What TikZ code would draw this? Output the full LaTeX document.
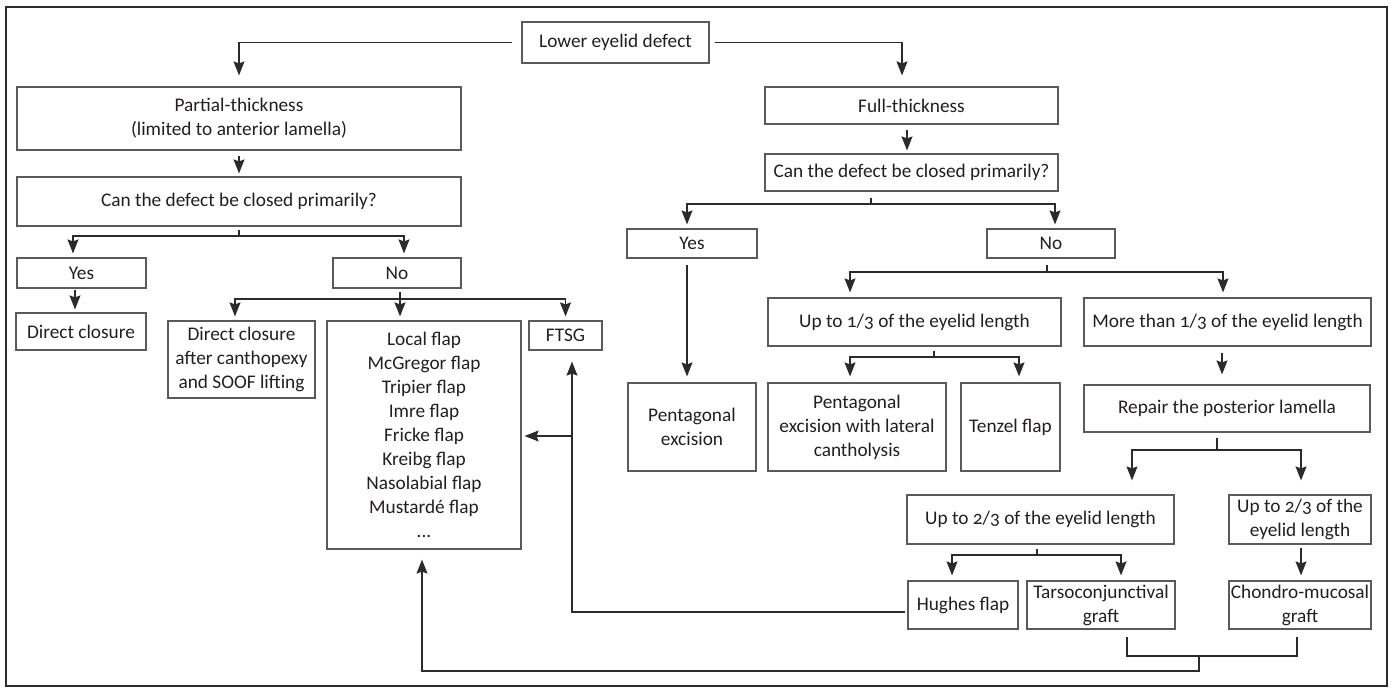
\documentclass[tikz,border=0pt]{standalone}
\usepackage{fontspec}
\setmainfont{Carlito}[Numbers=OldStyle]
\usetikzlibrary{arrows.meta}
\definecolor{txt}{HTML}{231F20}
\definecolor{boxc}{HTML}{5A5A5A}
\definecolor{lnc}{HTML}{2B2B2B}
\tikzset{
  bx/.style 2 args={draw=boxc, line width=1.2pt, rectangle, inner sep=0pt,
    minimum width=#1, minimum height=#2, align=center, text=txt,
    font=\fontsize{19.3}{24}\selectfont},
  ln/.style={draw=lnc, line width=1.2pt},
  arr/.style={ln, -{Stealth[length=14pt,width=11pt,inset=2pt]}},
  frame/.style={draw=lnc, line width=1.3pt}
}
\begin{document}
\begin{tikzpicture}[x=1pt,y=-1pt]
\useasboundingbox (0,0) rectangle (1392,689);
\draw[frame] (6,7) rectangle (1387,686);

% nodes
\node[bx={187pt}{41pt}] (low) at (615.5,42.5) {Lower eyelid defect};
\node[bx={444pt}{63pt}] (part) at (239,118.5) {Partial-thickness\\(limited to anterior lamella)};
\node[bx={444pt}{49pt}] (can1) at (239,201.5) {Can the defect be closed primarily?};
\node[bx={129pt}{30pt}] (yes1) at (81.5,273) {Yes};
\node[bx={128pt}{30pt}] (no1) at (397,273) {No};
\node[bx={130pt}{37pt}] (dc) at (81,331.5) {Direct closure};
\node[bx={147pt}{77pt}] (dca) at (241.5,359.5) {Direct closure\\after canthopexy\\and SOOF lifting};
\node[bx={194pt}{228pt}] (flaps) at (424,435) {Local flap\\McGregor flap\\Tripier flap\\Imre flap\\Fricke flap\\Kreibg flap\\Nasolabial flap\\Mustardé flap\\...};
\node[bx={73pt}{29pt}] (ftsg) at (565.5,335.5) {FTSG};
\node[bx={293pt}{37pt}] (full) at (911.5,105.5) {Full-thickness};
\node[bx={293pt}{37pt}] (can2) at (911.5,172.5) {Can the defect be closed primarily?};
\node[bx={130pt}{29pt}] (yes2) at (692,243.5) {Yes};
\node[bx={128pt}{29pt}] (no2) at (1051,243.5) {No};
\node[bx={293pt}{48pt}] (up13) at (914.5,322) {Up to 1/3 of the eyelid length};
\node[bx={287pt}{48pt}] (more13) at (1227.5,322) {More than 1/3 of the eyelid length};
\node[bx={128pt}{88pt}] (pent) at (692,427) {Pentagonal\\excision};
\node[bx={178pt}{88pt}] (pentlat) at (857,427) {Pentagonal\\excision with lateral\\cantholysis};
\node[bx={99pt}{88pt}] (tenzel) at (1010.5,427) {Tenzel flap};
\node[bx={286pt}{47pt}] (repair) at (1227,408.5) {Repair the posterior lamella};
\node[bx={267pt}{49pt}] (up23) at (1040.5,519.5) {Up to 2/3 of the eyelid length};
\node[bx={142pt}{49pt}] (up23r) at (1300,519.5) {Up to 2/3 of the\\eyelid length};
\node[bx={110pt}{48pt}] (hughes) at (963,605) {Hughes flap};
\node[bx={148pt}{48pt}] (tarso) at (1101,605) {Tarsoconjunctival\\graft};
\node[bx={142pt}{48pt}] (chondro) at (1300,605) {Chondro-mucosal\\graft};

% junctions
\coordinate (d) at (239,236);
\coordinate (f) at (400,299);
\coordinate (g) at (871,204);
\coordinate (i) at (1047,272);
\coordinate (jj) at (934,357);
\coordinate (l) at (1217,450);
\coordinate (m) at (1037,555);
\coordinate (o) at (572,436);
\coordinate (p) at (1199,656);

% connectors
\draw[arr, shorten <=9pt, shorten >=11pt] (low.west) -| (part.north);
\draw[arr, shorten <=5pt, shorten >=11pt] (low.east) -| ([xshift=-9.5pt]full.north);
\draw[arr, shorten <=5pt, shorten >=3pt] (part.south) -- (can1.north);

\draw[ln, shorten <=3pt] (can1.south) -- (d);
\draw[arr, shorten >=4pt] (d) -| ([xshift=-8.5pt]yes1.north);
\draw[arr, shorten >=4pt] (d) -| ([xshift=7pt]no1.north);
\draw[arr, shorten <=1pt, shorten >=3pt] ([xshift=-6.5pt]yes1.south) -- ([xshift=-6pt]dc.north);

\draw[ln, shorten <=3pt] ([xshift=3pt]no1.south) -- (f);
\draw[arr, shorten >=4pt] (f) -| ([xshift=-6.5pt]dca.north);
\draw[arr, shorten >=4pt] (f) -- (flaps.north -| f);
\draw[arr, shorten >=4pt] (f) -| (ftsg.north);

\draw[arr, shorten <=5pt, shorten >=3pt] ([xshift=-4.5pt]full.south) -- ([xshift=-4.5pt]can2.north);
\draw[ln, shorten <=6pt] (can2.south -| g) -- (g);
\draw[arr, shorten >=4pt] (g) -| ([xshift=-5pt]yes2.north);
\draw[arr, shorten >=4pt] (g) -| ([xshift=4pt]no2.north);
\draw[arr, shorten <=6pt, shorten >=6pt] ([xshift=-5pt]yes2.south) -- ([xshift=-5pt]pent.north);

\draw[ln, shorten <=6pt] (no2.south -| i) -- (i);
\draw[arr, shorten >=5pt] (i) -| ([xshift=-64.5pt]up13.north);
\draw[arr, shorten >=5pt] (i) -| ([xshift=-4.5pt]more13.north);

\draw[ln, shorten <=4pt] (up13.south -| jj) -- (jj);
\draw[arr, shorten >=6pt] (jj) -| ([xshift=-7pt]pentlat.north);
\draw[arr, shorten >=6pt] (jj) -| ([xshift=8.5pt]tenzel.north);

\draw[arr, shorten <=6pt, shorten >=10pt] ([xshift=-5.5pt]more13.south) -- ([xshift=-5pt]repair.north);
\draw[ln, shorten <=5pt] (repair.south -| l) -- (l);
\draw[arr, shorten >=14pt] (l) -| ([xshift=91.5pt]up23.north);
\draw[arr, shorten >=14pt] (l) -| ([xshift=1pt]up23r.north);

\draw[ln, shorten <=4pt] (up23.south -| m) -- (m);
\draw[arr, shorten >=5pt] (m) -| ([xshift=-11pt]hughes.north);
\draw[arr, shorten >=5pt] (m) -| ([xshift=20pt]tarso.north);
\draw[arr, shorten <=3pt, shorten >=5pt] ([xshift=1pt]up23r.south) -- ([xshift=1pt]chondro.north);

\draw[arr, shorten <=2pt, shorten >=11pt] ([yshift=-7pt]hughes.west) -| (ftsg.south -| o);
\draw[arr, shorten >=3pt] (o) -- (flaps.east |- o);

\draw[ln, shorten <=7pt] ([xshift=26pt]tarso.south) |- (p);
\draw[ln, shorten <=7pt] ([xshift=-3pt]chondro.south) |- (p);
\draw[arr, shorten >=10pt] (p) -- ++(0,15) -| ([xshift=-2pt]flaps.south);
\end{tikzpicture}
\end{document}
